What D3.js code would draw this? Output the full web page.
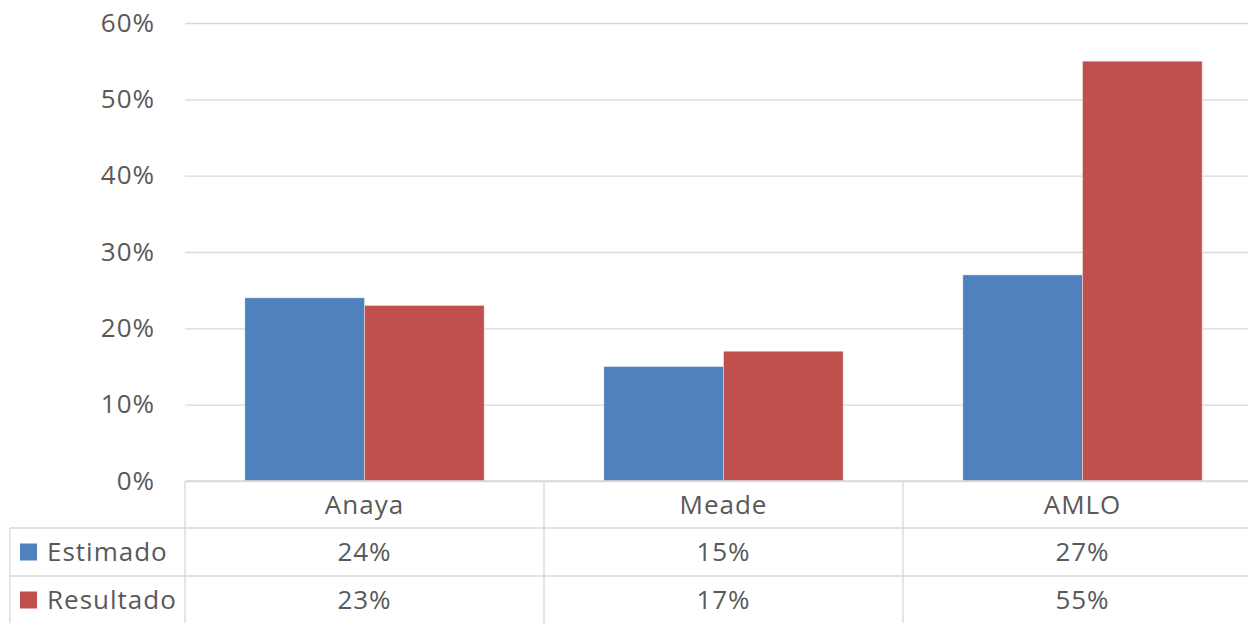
<!DOCTYPE html>
<html>
<head>
<meta charset="utf-8">
<script src="https://cdn.jsdelivr.net/npm/d3@7"></script>
<style>
  body { margin: 0; background: #fff; }
  svg text { font-family: "Open Sans", "Noto Sans", sans-serif; fill: #595959; letter-spacing: 1px; }
</style>
</head>
<body>
<svg class="chart" width="1248" height="623"></svg>
<script>
// data
var categories = ["Anaya", "Meade", "AMLO"];
var series = ["Estimado", "Resultado"];
var estimado = [24, 15, 27];
var resultado = [23, 17, 55];
var yTicks = [0, 10, 20, 30, 40, 50, 60];

var colors = { Estimado: "#4F81BD", Resultado: "#C0504D" };
var gridColor = "#d9d9d9";
var fontSize = "26px";

var svg = d3.select("svg.chart");

var plot = { left: 185, right: 1262, top: 23, bottom: 481 };
var rowH = [481, 528, 576, 624]; // table row edges
var tableLeft = 10;

var x = d3.scaleBand().domain(categories).range([plot.left, plot.right]).paddingInner(0).paddingOuter(0);
var xs = d3.scaleBand().domain(series).range([0, x.bandwidth()]).paddingInner(0).paddingOuter(0.5);
var y = d3.scaleLinear().domain([0, 60]).range([plot.bottom, plot.top]);

var data = categories.map(function(c, i) {
    return { cat: c, values: [
        { key: "Estimado", value: estimado[i] },
        { key: "Resultado", value: resultado[i] }
    ]};
});

// y axis with grid lines
var yAxis = svg.append("g")
    .attr("class", "axis axis-y")
    .attr("transform", "translate(" + plot.left + ",0)")
    .call(d3.axisLeft(y).tickValues(yTicks)
        .tickSize(-(plot.right - plot.left))
        .tickPadding(30)
        .tickFormat(function(d) { return d + "%"; }));

yAxis.select(".domain").remove();
yAxis.selectAll(".tick line").attr("stroke", gridColor).attr("stroke-width", 1.3);
yAxis.selectAll(".tick text")
    .attr("fill", "#595959")
    .style("font-size", fontSize);

// bars
var barGroup = svg.append("g")
    .attr("class", "bar-group")
    .selectAll(".bar-set")
    .data(data)
    .enter().append("g")
    .attr("class", "bar-set")
    .attr("transform", function(d) { return "translate(" + x(d.cat) + ",0)"; });

barGroup.selectAll("rect")
    .data(function(d) { return d.values; })
    .enter().append("rect")
    .attr("x", function(d) { return xs(d.key); })
    .attr("y", function(d) { return y(d.value); })
    .attr("width", xs.bandwidth())
    .attr("height", function(d) { return y(0) - y(d.value); })
    .attr("fill", function(d) { return colors[d.key]; })
    .attr("stroke", "#ffffff")
    .attr("stroke-opacity", 0.5)
    .attr("stroke-width", 0.8);

// data table under the chart
var table = svg.append("g").attr("class", "data-table");

// horizontal lines
table.append("line")
    .attr("x1", plot.left).attr("x2", plot.right)
    .attr("y1", rowH[0]).attr("y2", rowH[0]);
[rowH[1], rowH[2], rowH[3]].forEach(function(yy) {
    table.append("line")
        .attr("x1", tableLeft).attr("x2", plot.right)
        .attr("y1", yy).attr("y2", yy);
});

// vertical lines
categories.concat(["_end"]).forEach(function(c, i) {
    var xx = i < categories.length ? x(c) : plot.right;
    table.append("line")
        .attr("x1", xx).attr("x2", xx)
        .attr("y1", rowH[0]).attr("y2", rowH[3]);
});
table.append("line")
    .attr("x1", tableLeft).attr("x2", tableLeft)
    .attr("y1", rowH[1]).attr("y2", rowH[3]);

table.selectAll("line").attr("stroke", gridColor).attr("stroke-width", 1.3);

// category header row
table.selectAll(".cat-label")
    .data(categories)
    .enter().append("text")
    .attr("class", "cat-label")
    .attr("x", function(d) { return x(d) + x.bandwidth() / 2; })
    .attr("y", (rowH[0] + rowH[1]) / 2)
    .attr("dy", "0.35em")
    .attr("text-anchor", "middle")
    .style("font-size", fontSize)
    .text(function(d) { return d; });

// series rows
var rows = [estimado, resultado];
series.forEach(function(s, r) {
    var cy = (rowH[r + 1] + rowH[r + 2]) / 2;

    table.append("rect")
        .attr("x", 20)
        .attr("y", cy - 8.5)
        .attr("width", 17)
        .attr("height", 17)
        .attr("fill", colors[s]);

    table.append("text")
        .attr("x", 47)
        .attr("y", cy)
        .attr("dy", "0.35em")
        .style("font-size", fontSize)
        .text(s);

    table.selectAll(".val-" + r)
        .data(rows[r])
        .enter().append("text")
        .attr("class", "val-" + r)
        .attr("x", function(d, i) { return x(categories[i]) + x.bandwidth() / 2; })
        .attr("y", cy)
        .attr("dy", "0.35em")
        .attr("text-anchor", "middle")
        .style("font-size", fontSize)
        .text(function(d) { return d + "%"; });
});
</script>
</body>
</html>
